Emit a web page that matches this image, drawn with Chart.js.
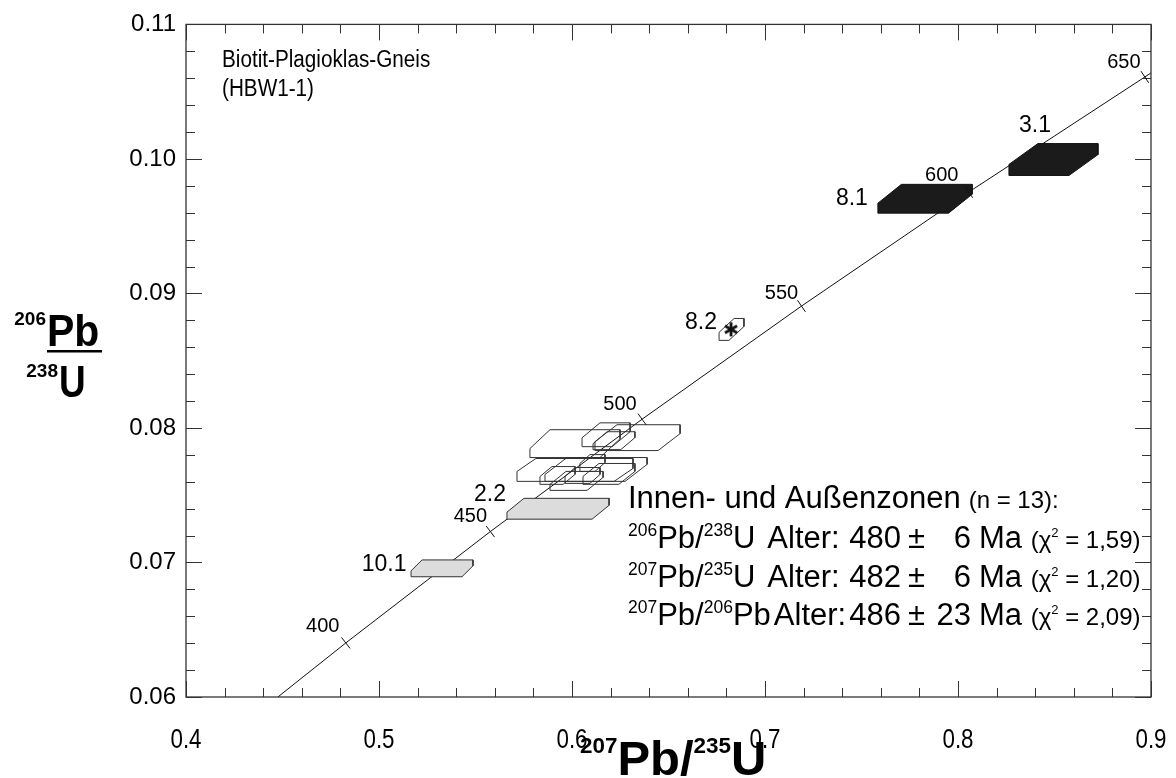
<!DOCTYPE html>
<html><head><meta charset="utf-8">
<script src="https://cdn.jsdelivr.net/npm/chart.js@4.4.0/dist/chart.umd.min.js"></script>
<style>html,body{margin:0;padding:0;background:#fff}</style>
</head><body>
<canvas id="c" width="1176" height="778"></canvas>
<script>
// ---------- data ----------
const xTickLabels = ['0.4','0.5','0.6','0.7','0.8','0.9'];
const yTickLabels = ['0.06','0.07','0.08','0.09','0.10','0.11'];

// concordia curve (207Pb/235U, 206Pb/238U) read at the plot edges and at the age marks
const concX = [0.4476, 0.4828, 0.5577, 0.6363, 0.7189, 0.8056, 0.8968, 0.9000];
const concY = [0.0600, 0.06402, 0.07230, 0.08065, 0.08906, 0.09754, 0.10609, 0.10639];

const ageLabels = ['400','450','500','550','600','650'];
const ageX = [0.4828, 0.5577, 0.6363, 0.7189, 0.8056, 0.8968];
const ageY = [0.06402, 0.07230, 0.08065, 0.08906, 0.09754, 0.10609];

// spot error boxes
const spotLabel = ['','','','','','','','','','','','2.2','10.1','8.1','3.1','8.2'];
const spotType  = ['open','open','open','open','open','open','open','open','open','open','open','grey','grey','black','black','open'];
const spotXmin  = [0.6119,0.5782,0.6052,0.6109,0.5715,0.5860,0.5886,0.5834,0.6041,0.5964,0.6057,0.5663,0.5166,0.7585,0.8264,0.6762];
const spotXmax  = [0.6560,0.6249,0.6301,0.6326,0.6316,0.6389,0.6161,0.6016,0.6171,0.6145,0.6326,0.6192,0.5487,0.8073,0.8725,0.6891];
const spotYmin  = [0.07832,0.07780,0.07861,0.07839,0.07603,0.07603,0.07536,0.07581,0.07677,0.07588,0.07581,0.07322,0.06894,0.09597,0.09877,0.08651];
const spotYmax  = [0.08024,0.07987,0.08038,0.07972,0.07773,0.07780,0.07677,0.07713,0.07802,0.07706,0.07736,0.07477,0.07019,0.09811,0.10114,0.08814];
const spotCutX  = [0.0114,0.0104,0.0093,0.0073,0.0098,0.0114,0.0083,0.0062,0.0052,0.0052,0.0083,0.0088,0.0057,0.0122,0.0150,0.0078];
const spotCutY  = [0.00126,0.00140,0.00111,0.00089,0.00096,0.00126,0.00096,0.00074,0.00066,0.00066,0.00096,0.00103,0.00081,0.00140,0.00155,0.00103];

// excluded spot marker (asterisk)
const starX = [0.6824];
const starY = [0.08733];

const titleLines = ['Biotit-Plagioklas-Gneis', '(HBW1-1)'];
const resHead = 'Innen- und Außenzonen';
const resN = '(n = 13):';
const resSys   = [['206','Pb/','238','U'], ['207','Pb/','235','U'], ['207','Pb/','206','Pb']];
const resAge   = ['480','482','486'];
const resErr   = ['6','6','23'];
const resChi   = ['1,59','1,20','2,09'];

// ---------- styles (positions / sizes) ----------
const FONT = '"Liberation Sans", Arial, sans-serif';
const fillFor = {open: null, grey: '#dcdcdc', black: '#1b1b1b'};
const spotLabelOffset = {'2.2':[-17,-4], '10.1':[-27,5], '8.1':[-26,14], '3.1':[26,-18], '8.2':[-18,4]};
const ageLabelOffset = [[-23,-16],[-20,-15],[-22,-15],[-20,-13],[-27,-17],[-21,-15]];

// ---------- build datasets ----------
const datasets = [];
datasets.push({
  label: 'concordia', data: concX.map((x,i)=>({x, y: concY[i]})),
  showLine: true, borderColor: '#111', borderWidth: 1, pointRadius: 0, fill: false, order: 10, tension: 0
});
for (let i = 0; i < spotXmin.length; i++) {
  const x1 = spotXmin[i], x2 = spotXmax[i], y1 = spotYmin[i], y2 = spotYmax[i], cx = spotCutX[i], cy = spotCutY[i];
  const pts = [
    {x:x1, y:y1}, {x:x1, y:y2-cy}, {x:x1+cx, y:y2}, {x:x2, y:y2},
    {x:x2, y:y1+cy}, {x:x2-cx, y:y1}, {x:x1, y:y1}
  ];
  datasets.push({
    label: spotLabel[i] || ('spot' + (i+1)), data: pts, showLine: true,
    borderColor: spotType[i] === 'black' ? '#111' : '#333', borderWidth: 1, pointRadius: 0,
    fill: false, tension: 0, order: 5, polyFill: fillFor[spotType[i]], spotName: spotLabel[i]
  });
}
const starCanvas = document.createElement('canvas');
starCanvas.width = 18; starCanvas.height = 18;
(function(){
  const s = starCanvas.getContext('2d');
  s.strokeStyle = '#111'; s.lineWidth = 2.8;
  for (let k = 0; k < 3; k++) {
    const a = Math.PI/2 + k*Math.PI/3;
    s.beginPath(); s.moveTo(9+7*Math.cos(a), 9+7*Math.sin(a)); s.lineTo(9-7*Math.cos(a), 9-7*Math.sin(a)); s.stroke();
  }
})();
datasets.push({
  label: 'excluded', data: starX.map((x,i)=>({x, y: starY[i]})), showLine: false,
  pointStyle: starCanvas, pointRadius: 9, order: 0
});

// ---------- helpers ----------
function runs(ctx, list, x, y) {
  for (const r of list) {
    ctx.font = r.f;
    ctx.fillText(r.t, x, y + (r.dy || 0));
    x += ctx.measureText(r.t).width;
  }
  return x;
}

const overlay = {
  id: 'overlay',
  beforeDatasetDraw(chart, args) {
    const ds = chart.data.datasets[args.index];
    if (!ds.polyFill) return;
    const ctx = chart.ctx, pts = args.meta.data;
    ctx.save();
    ctx.beginPath();
    pts.forEach((p,i) => i ? ctx.lineTo(p.x, p.y) : ctx.moveTo(p.x, p.y));
    ctx.closePath();
    ctx.fillStyle = ds.polyFill;
    ctx.fill();
    ctx.restore();
  },
  afterDraw(chart) {
    const ctx = chart.ctx, xs = chart.scales.x, ys = chart.scales.y, a = chart.chartArea;
    ctx.save();
    // frame
    ctx.strokeStyle = '#333'; ctx.lineWidth = 1.3;
    ctx.strokeRect(a.left, a.top, a.right - a.left, a.bottom - a.top);
    // inner ticks
    ctx.lineWidth = 1;
    const xmin = +xTickLabels[0], xmax = +xTickLabels[xTickLabels.length-1];
    const ymin = +yTickLabels[0], ymax = +yTickLabels[yTickLabels.length-1];
    for (let k = 0; k <= Math.round((xmax - xmin)/0.02); k++) {
      const v = xmin + k*0.02, px = Math.round(xs.getPixelForValue(v)) + 0.5;
      const L = (k % 5 === 0) ? 16 : 9;
      ctx.beginPath(); ctx.moveTo(px, a.bottom); ctx.lineTo(px, a.bottom - L);
      ctx.moveTo(px, a.top); ctx.lineTo(px, a.top + L); ctx.stroke();
    }
    for (let k = 0; k <= Math.round((ymax - ymin)/0.002); k++) {
      const v = ymin + k*0.002, py = Math.round(ys.getPixelForValue(v)) + 0.5;
      const L = (k % 5 === 0) ? 16 : 9;
      ctx.beginPath(); ctx.moveTo(a.left, py); ctx.lineTo(a.left + L, py);
      ctx.moveTo(a.right, py); ctx.lineTo(a.right - L, py); ctx.stroke();
    }
    // x tick labels (condensed)
    ctx.fillStyle = '#000'; ctx.textAlign = 'center'; ctx.textBaseline = 'alphabetic';
    for (const t of xTickLabels) {
      const px = xs.getPixelForValue(+t);
      ctx.save(); ctx.translate(px, 748); ctx.scale(0.86, 1.08);
      ctx.font = '26px ' + FONT; ctx.fillText(t, 0, 0); ctx.restore();
    }
    // concordia age marks
    ctx.strokeStyle = '#111'; ctx.lineWidth = 1;
    ctx.font = '20px ' + FONT; ctx.textAlign = 'center'; ctx.textBaseline = 'middle';
    for (let i = 0; i < ageLabels.length; i++) {
      const px = xs.getPixelForValue(ageX[i]), py = ys.getPixelForValue(ageY[i]);
      const j0 = i, j2 = i + 2; // neighbours in concordia array
      const dx = xs.getPixelForValue(concX[j2]) - xs.getPixelForValue(concX[j0]);
      const dy = ys.getPixelForValue(concY[j2]) - ys.getPixelForValue(concY[j0]);
      const len = Math.hypot(dx, dy), nx = -dy/len, ny = dx/len;
      ctx.beginPath(); ctx.moveTo(px - nx*7, py - ny*7); ctx.lineTo(px + nx*7, py + ny*7); ctx.stroke();
      const o = ageLabelOffset[i];
      ctx.fillText(ageLabels[i], px + o[0], py + o[1]);
    }
    // spot labels
    ctx.font = '23px ' + FONT;
    chart.data.datasets.forEach((ds) => {
      if (!ds.spotName) return;
      const o = spotLabelOffset[ds.spotName];
      const k = spotLabel.indexOf(ds.spotName);
      const px = xs.getPixelForValue(spotXmin[k]), py = ys.getPixelForValue(spotYmax[k]);
      ctx.fillText(ds.spotName, px + o[0], py + o[1]);
    });
    // sample title
    ctx.textAlign = 'left'; ctx.textBaseline = 'alphabetic';
    ctx.save(); ctx.translate(222, 0); ctx.scale(0.9, 1);
    ctx.font = '23px ' + FONT;
    ctx.fillText(titleLines[0], 0, 67);
    ctx.fillText(titleLines[1], 0, 96);
    ctx.restore();
    // results block
    const main = '31px ' + FONT, sup = '17.5px ' + FONT, small = '24px ' + FONT, tiny = '13px ' + FONT;
    let xh = runs(ctx, [{t: resHead, f: main}], 628, 508);
    runs(ctx, [{t: resN, f: small}], xh + 8, 508);
    const base = [548, 587, 625];
    for (let i = 0; i < 3; i++) {
      const s = resSys[i], y = base[i];
      let xe = runs(ctx, [{t:s[0], f:sup, dy:-12}, {t:s[1], f:main}, {t:s[2], f:sup, dy:-12}, {t:s[3], f:main}], 628, y);
      runs(ctx, [{t:'Alter:', f:main}], xe + (i === 2 ? 3 : 12), y);
      ctx.font = main; ctx.textAlign = 'right';
      ctx.fillText(resAge[i], 901, y);
      ctx.textAlign = 'left';
      ctx.fillText('\u00B1', 908, y);
      ctx.textAlign = 'right';
      ctx.fillText(resErr[i], 971, y);
      ctx.textAlign = 'left';
      runs(ctx, [{t:'Ma ', f:main}, {t:'(\u03C7', f:small}, {t:'2', f:tiny, dy:-11}, {t:' = ' + resChi[i] + ')', f:small}], 979, y);
    }
    // y axis title
    ctx.fillStyle = '#000';
    ctx.font = 'bold 19px ' + FONT; ctx.textAlign = 'right';
    ctx.fillText('206', 46, 325);
    ctx.fillText('238', 58, 377);
    ctx.textAlign = 'left';
    ctx.save(); ctx.translate(47, 346); ctx.scale(1, 1.08);
    ctx.font = 'bold 41px ' + FONT; ctx.fillText('Pb', 0, 0); ctx.restore();
    ctx.save(); ctx.translate(59, 397); ctx.scale(0.9, 1.08);
    ctx.font = 'bold 41px ' + FONT; ctx.fillText('U', 0, 0); ctx.restore();
    ctx.fillRect(47, 350, 55, 2.5);
    // x axis title
    ctx.save();
    ctx.translate(580, 775); ctx.scale(1.02, 1);
    runs(ctx, [{t:'207', f:'bold 22px ' + FONT, dy:-22}, {t:'Pb/', f:'bold 48px ' + FONT},
               {t:'235', f:'bold 22px ' + FONT, dy:-22}, {t:'U', f:'bold 48px ' + FONT}], 0, 0);
    ctx.restore();
    ctx.restore();
  }
};

new Chart(document.getElementById('c'), {
  type: 'scatter',
  data: { datasets },
  options: {
    responsive: false, animation: false, devicePixelRatio: 1,
    layout: { padding: { top: 20, right: 25, left: 0, bottom: 0 } },
    plugins: { legend: { display: false }, tooltip: { enabled: false } },
    scales: {
      x: {
        type: 'linear', min: +xTickLabels[0], max: +xTickLabels[xTickLabels.length-1],
        grid: { display: false, drawTicks: false }, border: { display: false },
        ticks: { display: false, stepSize: 0.1 },
        afterFit(s) { s.height = 81; }
      },
      y: {
        type: 'linear', min: +yTickLabels[0], max: +yTickLabels[yTickLabels.length-1],
        grid: { display: false, drawTicks: false }, border: { display: false },
        ticks: {
          stepSize: 0.01, padding: 10, color: '#000',
          font: { family: FONT, size: 24 },
          callback: (v) => yTickLabels.find(t => Math.abs(+t - v) < 1e-9) || ''
        },
        afterFit(s) { s.width = 186; }
      }
    }
  },
  plugins: [overlay]
});
</script>
</body></html>
